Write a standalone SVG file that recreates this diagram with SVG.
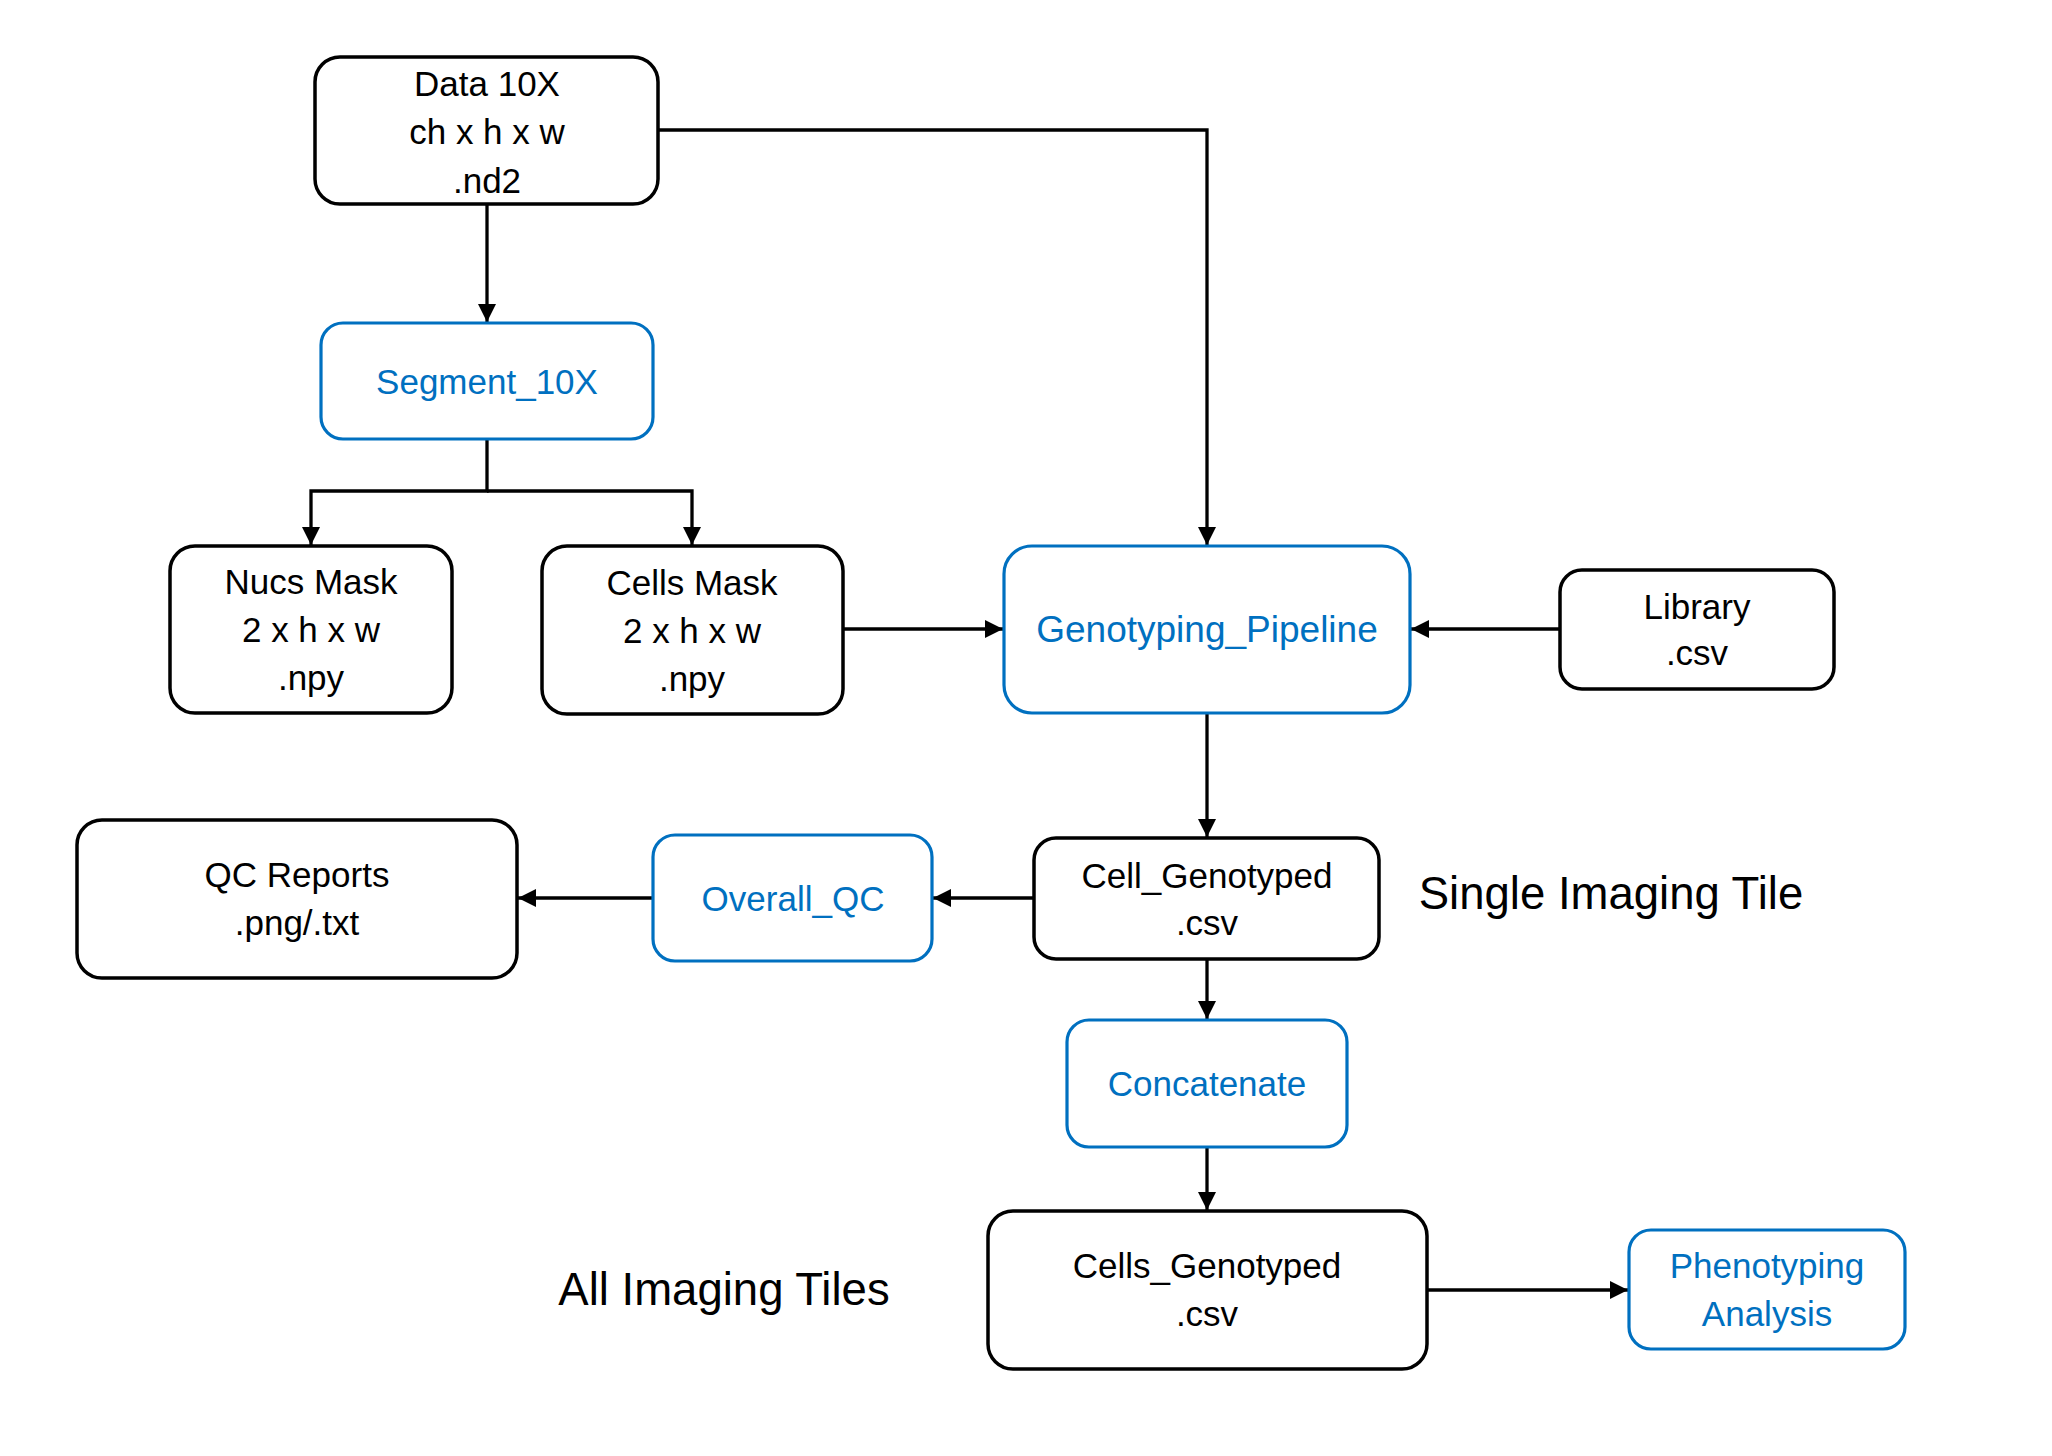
<svg xmlns="http://www.w3.org/2000/svg" width="2052" height="1456" viewBox="0 0 2052 1456">
<defs>
<style>
.box{fill:#fff;stroke:#000;stroke-width:3.5}
.pbox{fill:#fff;stroke:#0070C0;stroke-width:3.2}
.t{font-family:"Liberation Sans",Arial,sans-serif;font-size:35px;fill:#000;text-anchor:middle}
.pt{font-family:"Liberation Sans",Arial,sans-serif;font-size:35px;fill:#0070C0;text-anchor:middle}
.big{font-family:"Liberation Sans",Arial,sans-serif;font-size:45.5px;fill:#000;text-anchor:middle}
.c{fill:none;stroke:#000;stroke-width:3.3}
</style>
<marker id="ah" markerUnits="userSpaceOnUse" markerWidth="18" markerHeight="18" viewBox="0 0 17 17" refX="17" refY="8.5" orient="auto">
<path d="M0,0 L17,8.5 L0,17 z" fill="#000"/>
</marker>
</defs>
<rect width="2052" height="1456" fill="#fff"/>
<g id="connectors">
<path class="c" d="M487,204 V322" marker-end="url(#ah)"/>
<path class="c" d="M487,439 V491 H311 V545" marker-end="url(#ah)"/>
<path class="c" d="M487,491 H692 V545" marker-end="url(#ah)"/>
<path class="c" d="M658,130 H1207 V545" marker-end="url(#ah)"/>
<path class="c" d="M843,629 H1003" marker-end="url(#ah)"/>
<path class="c" d="M1560,629 H1411" marker-end="url(#ah)"/>
<path class="c" d="M1207,713 V837" marker-end="url(#ah)"/>
<path class="c" d="M1034,898 H933" marker-end="url(#ah)"/>
<path class="c" d="M653,898 H518" marker-end="url(#ah)"/>
<path class="c" d="M1207,959 V1019" marker-end="url(#ah)"/>
<path class="c" d="M1207,1147 V1210" marker-end="url(#ah)"/>
<path class="c" d="M1427,1290 H1628" marker-end="url(#ah)"/>
</g>
<g id="data10x">
<rect class="box" x="315" y="57" width="343" height="147" rx="25"/>
<text class="t" x="487" y="96">Data 10X</text>
<text class="t" x="487" y="144">ch x h x w</text>
<text class="t" x="487" y="193">.nd2</text>
</g>
<g id="segment10x">
<rect class="pbox" x="321" y="323" width="332" height="116" rx="22"/>
<text class="pt" x="487" y="394">Segment_10X</text>
</g>
<g id="nucsmask">
<rect class="box" x="170" y="546" width="282" height="167" rx="25"/>
<text class="t" x="311" y="594">Nucs Mask</text>
<text class="t" x="311" y="642">2 x h x w</text>
<text class="t" x="311" y="690">.npy</text>
</g>
<g id="cellsmask">
<rect class="box" x="542" y="546" width="301" height="168" rx="25"/>
<text class="t" x="692" y="595">Cells Mask</text>
<text class="t" x="692" y="643">2 x h x w</text>
<text class="t" x="692" y="691">.npy</text>
</g>
<g id="genotyping">
<rect class="pbox" x="1004" y="546" width="406" height="167" rx="28"/>
<text class="pt" x="1207" y="642" style="font-size:37px">Genotyping_Pipeline</text>
</g>
<g id="library">
<rect class="box" x="1560" y="570" width="274" height="119" rx="22"/>
<text class="t" x="1697" y="619">Library</text>
<text class="t" x="1697" y="665">.csv</text>
</g>
<g id="qcreports">
<rect class="box" x="77" y="820" width="440" height="158" rx="25"/>
<text class="t" x="297" y="887">QC Reports</text>
<text class="t" x="297" y="935">.png/.txt</text>
</g>
<g id="overallqc">
<rect class="pbox" x="653" y="835" width="279" height="126" rx="22"/>
<text class="pt" x="793" y="911">Overall_QC</text>
</g>
<g id="cellgenotyped">
<rect class="box" x="1034" y="838" width="345" height="121" rx="22"/>
<text class="t" x="1207" y="888">Cell_Genotyped</text>
<text class="t" x="1207" y="935">.csv</text>
</g>
<g id="concatenate">
<rect class="pbox" x="1067" y="1020" width="280" height="127" rx="22"/>
<text class="pt" x="1207" y="1096">Concatenate</text>
</g>
<g id="cellsgenotyped">
<rect class="box" x="988" y="1211" width="439" height="158" rx="25"/>
<text class="t" x="1207" y="1278">Cells_Genotyped</text>
<text class="t" x="1207" y="1326">.csv</text>
</g>
<g id="phenotyping">
<rect class="pbox" x="1629" y="1230" width="276" height="119" rx="22"/>
<text class="pt" x="1767" y="1278">Phenotyping</text>
<text class="pt" x="1767" y="1326">Analysis</text>
</g>
<g id="labels">
<text class="big" x="1611" y="909">Single Imaging Tile</text>
<text class="big" x="724" y="1305">All Imaging Tiles</text>
</g>
</svg>
